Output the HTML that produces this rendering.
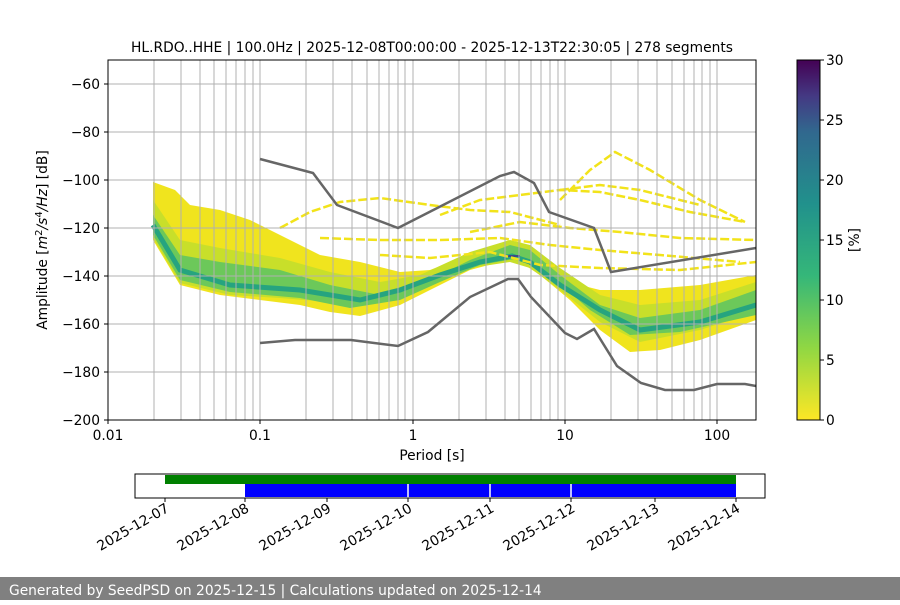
<!DOCTYPE html>
<html><head><meta charset="utf-8"><style>
body{margin:0;width:900px;height:600px;background:#fff;overflow:hidden;font-family:"Liberation Sans","DejaVu Sans",sans-serif}
</style></head><body>
<svg width="900" height="600" xmlns="http://www.w3.org/2000/svg" font-family="DejaVu Sans, Liberation Sans, sans-serif">
<defs>
<linearGradient id="vir" x1="0" y1="1" x2="0" y2="0">
<stop offset="0" stop-color="#fde725"/><stop offset="0.2" stop-color="#90d743"/><stop offset="0.4" stop-color="#35b779"/><stop offset="0.6" stop-color="#21918c"/><stop offset="0.8" stop-color="#31688e"/><stop offset="0.9" stop-color="#443983"/><stop offset="1" stop-color="#440154"/>
</linearGradient>
<clipPath id="pc"><rect x="108" y="60" width="648" height="360"/></clipPath>
</defs>
<text x="432" y="52" font-size="13.8" text-anchor="middle">HL.RDO..HHE | 100.0Hz | 2025-12-08T00:00:00 - 2025-12-13T22:30:05 | 278 segments</text>
<g clip-path="url(#pc)">
<polygon fill="#f0e41e" points="153,182 175,190 190,205 220,210 250,220 280,235 320,255 360,262 400,272 430,270 470,255 500,245 520,242 540,255 560,275 580,285 600,290 640,290 700,285 756,275 756,320 700,340 660,350 630,352 600,330 570,300 540,275 520,262 500,262 470,270 430,290 400,305 360,316 330,312 300,305 260,300 220,295 180,285 153,240"/>
<polygon fill="#c8df2a" points="153,200 180,240 220,248 280,258 330,272 380,282 420,275 470,252 510,240 530,245 560,268 600,295 640,305 700,300 756,282 756,312 700,330 640,342 600,322 560,290 530,268 510,262 470,268 430,285 380,302 330,302 280,298 230,295 180,283 153,238"/>
<polygon fill="#6cc85a" points="153,215 180,255 220,262 280,270 330,285 380,295 420,285 470,260 510,245 530,250 560,275 600,305 640,318 700,310 756,290 756,315 680,332 630,335 590,310 550,275 520,258 480,265 440,282 400,300 350,308 300,298 230,292 180,280 153,235"/>
<polyline fill="none" stroke="#26a47f" stroke-width="5" points="153,225 180,270 230,285 300,290 360,300 400,290 440,275 480,262 512,256 530,262 560,285 600,310 640,330 700,322 756,305"/>
<polyline fill="none" stroke="#3a4a8a" stroke-width="2" points="505,256 520,256"/>
<g fill="none" stroke="#f2e31a" stroke-width="2.5" stroke-dasharray="9 3">
<polyline points="280,228 310,212 340,202 380,198 430,205 470,210 510,212 560,225"/>
<polyline points="560,200 590,170 615,152 650,170 700,200 745,222"/>
<polyline points="440,215 480,200 520,195 560,190 600,192 640,200 690,212 745,222"/>
<polyline points="470,232 520,222 570,228 620,232 680,238 756,240"/>
<polyline points="320,238 380,240 440,240 500,238 550,245 600,250 660,255 740,262"/>
<polyline points="380,255 430,258 490,252 540,265 600,268 680,270 756,262"/>
<polyline points="560,190 600,185 640,190 700,205"/>
</g>
</g>
<g stroke="#b0b0b0" stroke-width="1">
<line x1="154" y1="60" x2="154" y2="420"/><line x1="181" y1="60" x2="181" y2="420"/><line x1="200" y1="60" x2="200" y2="420"/><line x1="214" y1="60" x2="214" y2="420"/><line x1="226" y1="60" x2="226" y2="420"/><line x1="236" y1="60" x2="236" y2="420"/><line x1="245" y1="60" x2="245" y2="420"/><line x1="253" y1="60" x2="253" y2="420"/><line x1="260" y1="60" x2="260" y2="420"/>
<line x1="306" y1="60" x2="306" y2="420"/><line x1="333" y1="60" x2="333" y2="420"/><line x1="352" y1="60" x2="352" y2="420"/><line x1="367" y1="60" x2="367" y2="420"/><line x1="379" y1="60" x2="379" y2="420"/><line x1="389" y1="60" x2="389" y2="420"/><line x1="398" y1="60" x2="398" y2="420"/><line x1="405" y1="60" x2="405" y2="420"/><line x1="413" y1="60" x2="413" y2="420"/>
<line x1="459" y1="60" x2="459" y2="420"/><line x1="486" y1="60" x2="486" y2="420"/><line x1="505" y1="60" x2="505" y2="420"/><line x1="519" y1="60" x2="519" y2="420"/><line x1="531" y1="60" x2="531" y2="420"/><line x1="541" y1="60" x2="541" y2="420"/><line x1="550" y1="60" x2="550" y2="420"/><line x1="558" y1="60" x2="558" y2="420"/><line x1="565" y1="60" x2="565" y2="420"/>
<line x1="611" y1="60" x2="611" y2="420"/><line x1="638" y1="60" x2="638" y2="420"/><line x1="657" y1="60" x2="657" y2="420"/><line x1="672" y1="60" x2="672" y2="420"/><line x1="684" y1="60" x2="684" y2="420"/><line x1="694" y1="60" x2="694" y2="420"/><line x1="702" y1="60" x2="702" y2="420"/><line x1="710" y1="60" x2="710" y2="420"/><line x1="717" y1="60" x2="717" y2="420"/>
<line x1="108" y1="84" x2="756" y2="84"/><line x1="108" y1="132" x2="756" y2="132"/><line x1="108" y1="180" x2="756" y2="180"/><line x1="108" y1="228" x2="756" y2="228"/><line x1="108" y1="276" x2="756" y2="276"/><line x1="108" y1="324" x2="756" y2="324"/><line x1="108" y1="372" x2="756" y2="372"/>
</g>
<g clip-path="url(#pc)" fill="none" stroke="#666" stroke-width="2.5">
<polyline points="260,159 313,173 337,205 398,228 500,176 514,172 534,183 549,212 594,228 611,272 756,248"/>
<polyline points="260,343 295,340 351,340 398,346 428,332 470,297 508,279 518,279 531,297 565,333 577,339 594,329 617,366 641,383 665,390 694,390 717,384 745,384 756,386"/>
</g>
<rect x="108" y="60" width="648" height="360" fill="none" stroke="#000" stroke-width="1"/>
<g stroke="#000"><line x1="104" y1="84" x2="108" y2="84"/><line x1="104" y1="132" x2="108" y2="132"/><line x1="104" y1="180" x2="108" y2="180"/><line x1="104" y1="228" x2="108" y2="228"/><line x1="104" y1="276" x2="108" y2="276"/><line x1="104" y1="324" x2="108" y2="324"/><line x1="104" y1="372" x2="108" y2="372"/><line x1="104" y1="420" x2="108" y2="420"/>
<line x1="108" y1="420" x2="108" y2="424"/><line x1="260" y1="420" x2="260" y2="424"/><line x1="413" y1="420" x2="413" y2="424"/><line x1="565" y1="420" x2="565" y2="424"/><line x1="717" y1="420" x2="717" y2="424"/></g>
<g font-size="13.8" text-anchor="end">
<text x="100" y="89">−60</text><text x="100" y="137">−80</text><text x="100" y="185">−100</text><text x="100" y="233">−120</text><text x="100" y="281">−140</text><text x="100" y="329">−160</text><text x="100" y="377">−180</text><text x="100" y="425">−200</text></g>
<g font-size="13.8" text-anchor="middle">
<text x="108" y="440">0.01</text><text x="260" y="440">0.1</text><text x="413" y="440">1</text><text x="565" y="440">10</text><text x="717" y="440">100</text>
<text x="432" y="460">Period [s]</text></g>
<text transform="translate(47,240) rotate(-90)" font-size="13.8" text-anchor="middle">Amplitude [<tspan font-style="italic">m</tspan><tspan font-size="10" dy="-5">2</tspan><tspan dy="5" font-style="italic">/s</tspan><tspan font-size="10" dy="-5">4</tspan><tspan dy="5" font-style="italic">/Hz</tspan>] [dB]</text>
<rect x="797" y="60" width="23" height="360" fill="url(#vir)" stroke="#000" stroke-width="1"/>
<g stroke="#000"><line x1="820" y1="60" x2="824" y2="60"/><line x1="820" y1="120" x2="824" y2="120"/><line x1="820" y1="180" x2="824" y2="180"/><line x1="820" y1="240" x2="824" y2="240"/><line x1="820" y1="300" x2="824" y2="300"/><line x1="820" y1="360" x2="824" y2="360"/><line x1="820" y1="420" x2="824" y2="420"/></g>
<g font-size="13.8"><text x="826" y="65">30</text><text x="826" y="125">25</text><text x="826" y="185">20</text><text x="826" y="245">15</text><text x="826" y="305">10</text><text x="826" y="365">5</text><text x="826" y="425">0</text></g>
<text transform="translate(859,240) rotate(-90)" font-size="13.8" text-anchor="middle">[%]</text>
<rect x="165" y="475" width="571" height="9" fill="#008000"/>
<rect x="245" y="484" width="491" height="13" fill="#0000ff"/>
<g stroke="#fff" stroke-width="1.5"><line x1="408" y1="484" x2="408" y2="497"/><line x1="490" y1="484" x2="490" y2="497"/><line x1="571" y1="484" x2="571" y2="497"/></g>
<rect x="135" y="474" width="630" height="24" fill="none" stroke="#000" stroke-width="1"/>
<g stroke="#000"><line x1="165" y1="498" x2="165" y2="502"/><line x1="245" y1="498" x2="245" y2="502"/><line x1="327" y1="498" x2="327" y2="502"/><line x1="408" y1="498" x2="408" y2="502"/><line x1="490" y1="498" x2="490" y2="502"/><line x1="571" y1="498" x2="571" y2="502"/><line x1="655" y1="498" x2="655" y2="502"/><line x1="736" y1="498" x2="736" y2="502"/></g>
<g font-size="13.8" text-anchor="end">
<text transform="translate(170,511) rotate(-30)">2025-12-07</text>
<text transform="translate(250,511) rotate(-30)">2025-12-08</text>
<text transform="translate(332,511) rotate(-30)">2025-12-09</text>
<text transform="translate(413,511) rotate(-30)">2025-12-10</text>
<text transform="translate(495,511) rotate(-30)">2025-12-11</text>
<text transform="translate(576,511) rotate(-30)">2025-12-12</text>
<text transform="translate(660,511) rotate(-30)">2025-12-13</text>
<text transform="translate(741,511) rotate(-30)">2025-12-14</text></g>
<rect x="0" y="577" width="900" height="23" fill="#808080"/>
<text x="9" y="595" font-size="13.8" fill="#fff">Generated by SeedPSD on 2025-12-15 | Calculations updated on 2025-12-14</text>
</svg>
</body></html>
